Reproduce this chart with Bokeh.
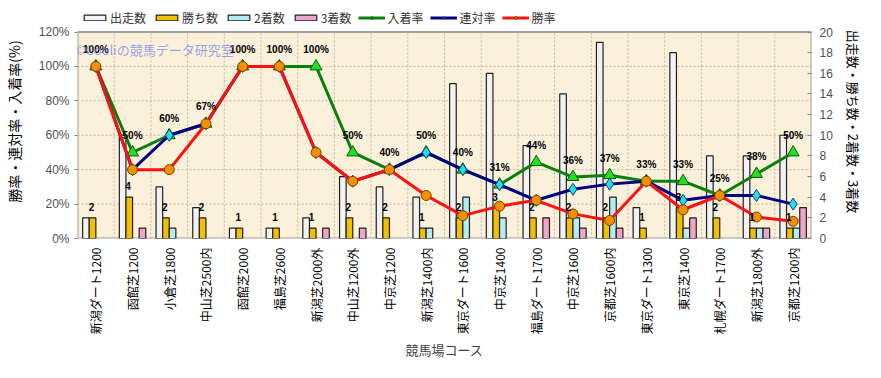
import math
import numpy as np
from bokeh.plotting import figure
from bokeh.models import (Range1d, LinearAxis, FixedTicker, Legend, LegendItem, Label,
                          PrintfTickFormatter)
from bokeh.core.properties import value
from bokeh.embed import file_html
from bokeh.resources import INLINE

# ---------------- data ----------------
courses = ["新潟ダート1200", "函館芝1200", "小倉芝1800", "中山芝2500内", "函館芝2000",
           "福島芝2600", "新潟芝2000外", "中山芝1200外", "中京芝1200", "新潟芝1400内",
           "東京ダート1600", "中京芝1400", "福島ダート1700", "中京芝1600", "京都芝1600内",
           "東京ダート1300", "東京芝1400", "札幌ダート1700", "新潟芝1800外", "京都芝1200内"]
runs = [2, 10, 5, 3, 1, 1, 2, 6, 5, 4, 15, 16, 9, 14, 19, 3, 18, 8, 8, 10]
wins = [2, 4, 2, 2, 1, 1, 1, 2, 2, 1, 2, 3, 2, 2, 2, 1, 3, 2, 1, 1]
seconds = [0, 0, 1, 0, 0, 0, 0, 0, 0, 1, 4, 2, 0, 2, 4, 0, 1, 0, 1, 1]
thirds = [0, 1, 0, 0, 0, 0, 1, 1, 0, 0, 0, 0, 2, 1, 1, 0, 2, 0, 1, 3]
win_rate = [100, 40, 40, 66.7, 100, 100, 50, 33.3, 40, 25, 13.3, 18.8, 22.2, 14.3, 10.5,
            33.3, 16.7, 25, 12.5, 10]
rentai_rate = [100, 40, 60, 66.7, 100, 100, 50, 33.3, 40, 50, 40, 31.3, 22.2, 28.6, 31.6,
               33.3, 22.2, 25, 25, 20]
place_rate = [100, 50, 60, 66.7, 100, 100, 100, 50, 40, 50, 40, 31.3, 44.4, 35.7, 36.8,
              33.3, 33.3, 25, 37.5, 50]
place_labels = ["100%", "50%", "60%", "67%", "100%", "100%", "100%", "50%", "40%", "50%",
                "40%", "31%", "44%", "36%", "37%", "33%", "33%", "25%", "38%", "50%"]
win_labels = ["2", "4", "2", "2", "1", "1", "1", "2", "2", "1", "2", "3", "2", "2", "2",
              "1", "3", "2", "1", "1"]
left_ticks = [0, 20, 40, 60, 80, 100, 120]
right_ticks = [0, 2, 4, 6, 8, 10, 12, 14, 16, 18, 20]
PCT_MAX, CNT_MAX = 120, 20

JP = "Noto Sans CJK JP"

W, H = 865, 362
BL, BR, BT, BB = 76, 52, 4, 120
FH = H - BT - BB                 # full frame height (includes legend strip)
PLOT_H = 210                     # height of the beige plotting area
ytop = PCT_MAX * FH / PLOT_H
n = len(courses)
x = np.arange(n)

p = figure(width=W, height=H, x_range=Range1d(-0.5, n - 0.5),
           y_range=Range1d(0, ytop), output_backend="svg", toolbar_location=None,
           min_border_left=BL, min_border_right=BR, min_border_top=BT,
           min_border_bottom=BB, background_fill_color="white",
           border_fill_color="white")
p.extra_y_ranges = {"cnt": Range1d(0, CNT_MAX * ytop / PCT_MAX)}
p.outline_line_color = None
p.grid.visible = False

# plotting area background + border
p.quad(left=-0.5, right=n - 0.5, bottom=0, top=PCT_MAX, fill_color="#fbf0d9",
       line_color="#a0a0a0", line_width=2, level="underlay")
# dotted grid
gx = [i - 0.5 for i in range(1, n)]
p.segment(x0=gx, y0=[0] * len(gx), x1=gx, y1=[PCT_MAX] * len(gx),
          line_color="#c2b8a4", line_dash="2 2", line_width=1, level="underlay")
gy = left_ticks[1:-1]
p.segment(x0=[-0.5] * len(gy), y0=gy, x1=[n - 0.5] * len(gy), y1=gy,
          line_color="#c2b8a4", line_dash="2 2", line_width=1, level="underlay")

# x axis
p.xaxis.ticker = FixedTicker(ticks=list(range(n)))
p.xaxis.major_label_overrides = {i: c for i, c in enumerate(courses)}
p.xaxis.major_label_orientation = math.pi / 2
p.xaxis.major_label_text_font = JP
p.xaxis.major_label_text_font_size = "12px"
p.xaxis.major_label_text_color = "black"
p.xaxis.major_tick_out = 0
p.xaxis.major_tick_in = 0
p.xaxis.minor_tick_out = 0
p.xaxis.axis_line_color = None
p.xaxis.major_label_standoff = 9
p.xaxis.axis_label = "競馬場コース"
p.xaxis.axis_label_text_font = JP
p.xaxis.axis_label_text_font_size = "13px"
p.xaxis.axis_label_text_font_style = "normal"
p.xaxis.axis_label_text_color = "#404040"
p.xaxis.axis_label_standoff = 3

# left axis
p.yaxis.ticker = FixedTicker(ticks=left_ticks)
p.yaxis.formatter = PrintfTickFormatter(format="%d%%")
p.yaxis.major_label_text_font = "Liberation Sans"
p.yaxis.major_label_text_font_size = "12px"
p.yaxis.major_label_text_color = "#505050"
p.yaxis.major_tick_out = 3
p.yaxis.major_tick_in = 0
p.yaxis.minor_tick_out = 0
p.yaxis.minor_tick_in = 0
p.yaxis.axis_line_color = None
p.yaxis.major_tick_line_color = "#808080"
p.yaxis.axis_label = "勝率・連対率・入着率(%)"
p.yaxis.axis_label_text_font = JP
p.yaxis.axis_label_text_font_size = "14px"
p.yaxis.axis_label_text_font_style = "normal"
p.yaxis.axis_label_text_color = "black"
p.yaxis.axis_label_standoff = 12

# right axis
ra = LinearAxis(y_range_name="cnt", ticker=FixedTicker(ticks=right_ticks))
ra.major_label_text_font = "Liberation Sans"
ra.major_label_text_font_size = "12px"
ra.major_label_text_color = "#505050"
ra.major_tick_out = 0
ra.major_tick_in = 4
ra.minor_tick_out = 0
ra.minor_tick_in = 0
ra.axis_line_color = None
ra.major_tick_line_color = "#808080"
ra.major_label_standoff = 8
ra.axis_label = "出走数・勝ち数・2着数・3着数"
ra.axis_label_text_font = JP
ra.axis_label_text_font_size = "13px"
ra.axis_label_text_font_style = "normal"
ra.axis_label_text_color = "black"
ra.axis_label_standoff = 8
p.add_layout(ra, "right")

# bars
bw = 0.18
offs = [-0.27, -0.09, 0.09, 0.27]
bar_specs = [("出走数", runs, "#f2f2f2"), ("勝ち数", wins, "#f2c000"),
             ("2着数", seconds, "#b4eef0"), ("3着数", thirds, "#f0a4cc")]
bar_rs = []
for (name, vals, col), off in zip(bar_specs, offs):
    arr = np.array(vals, dtype=float)
    arr = np.where(arr > 0, arr, np.nan)
    r = p.vbar(x=x + off, top=arr, bottom=0, width=bw, y_range_name="cnt",
               fill_color=col, line_color="#202020", line_width=1.2)
    bar_rs.append(r)

# lines
gl = p.line(x, place_rate, line_color="#0a800a", line_width=3)
gm = p.scatter(x, place_rate, marker="triangle", size=12, fill_color="#20e020",
               line_color="#0a5a0a", line_width=1)
nl = p.line(x, rentai_rate, line_color="#000080", line_width=3)
nm = p.scatter(x, rentai_rate, marker="diamond", size=12, fill_color="#20e0f0",
               line_color="#104060", line_width=1)
rl = p.line(x, win_rate, line_color="#ff1010", line_width=3)
rm = p.scatter(x, win_rate, marker="circle", size=10, fill_color="#f49000",
               line_color="#704000", line_width=1)

# labels
p.text(x=x, y=place_rate, text=place_labels, y_offset=-17, text_align="center",
       text_baseline="middle", text_font=value("Liberation Sans"),
       text_font_size="10px", text_font_style="bold", text_color="black")
p.text(x=x - 0.12, y=wins, text=win_labels, y_range_name="cnt", y_offset=-11,
       text_align="center", text_baseline="middle", text_font=value("Liberation Sans"),
       text_font_size="10px", text_font_style="bold", text_color="black")

# watermark
p.add_layout(Label(x=-0.58, y=110, text="©Cooliの競馬データ研究室", text_font=JP,
                   text_font_size="13px", text_color="#6f7ee8", text_alpha=0.7,
                   text_baseline="middle", text_align="left"))

legend = Legend(items=[
    LegendItem(label="出走数", renderers=[bar_rs[0]]),
    LegendItem(label="勝ち数", renderers=[bar_rs[1]]),
    LegendItem(label="2着数", renderers=[bar_rs[2]]),
    LegendItem(label="3着数", renderers=[bar_rs[3]]),
    LegendItem(label="入着率", renderers=[gl, gm]),
    LegendItem(label="連対率", renderers=[nl, nm]),
    LegendItem(label="勝率", renderers=[rl, rm]),
], orientation="horizontal", location=(3, PLOT_H + 1), glyph_width=27, glyph_height=7,
    label_standoff=2, spacing=7, padding=1, margin=0,
    label_text_font=JP, label_text_font_size="12px", label_text_color="#333333",
    background_fill_alpha=0, border_line_alpha=0)
p.add_layout(legend)

open("out.html", "w").write(file_html(p, INLINE))
